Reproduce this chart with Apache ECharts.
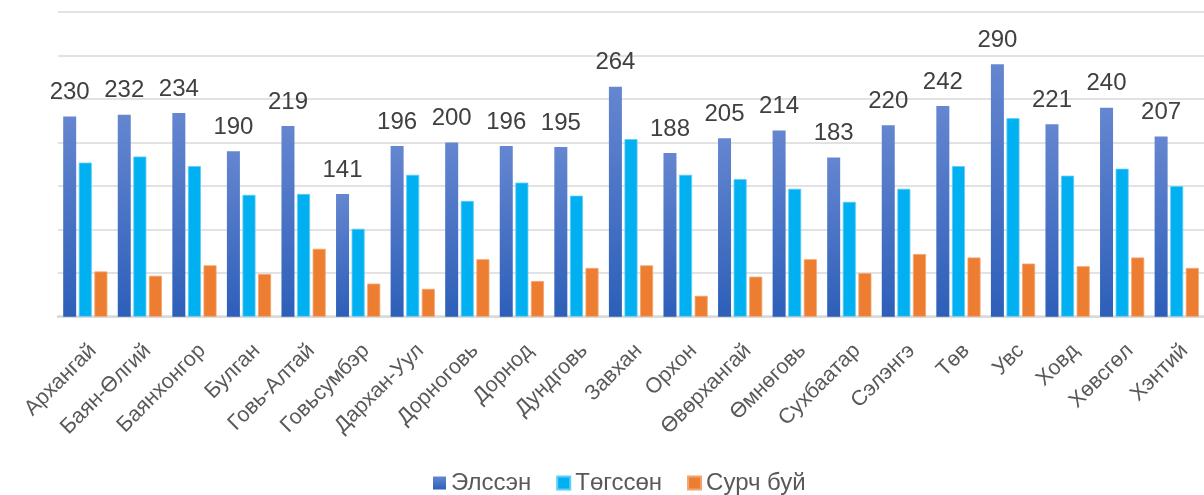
<!DOCTYPE html>
<html>
<head>
<meta charset="utf-8">
<script src="https://cdn.jsdelivr.net/npm/echarts@6/dist/echarts.min.js"></script>
<style>
  html, body { margin: 0; padding: 0; background: #ffffff; }
  #chart { width: 1204px; height: 495px; }
</style>
</head>
<body>
<div id="chart"></div>
<script>
// Aimags of Mongolia
const categories = [
  'Архангай', 'Баян-Өлгий', 'Баянхонгор', 'Булган', 'Говь-Алтай', 'Говьсумбэр',
  'Дархан-Уул', 'Дорноговь', 'Дорнод', 'Дундговь', 'Завхан', 'Орхон',
  'Өвөрхангай', 'Өмнөговь', 'Сухбаатар', 'Сэлэнгэ', 'Төв', 'Увс',
  'Ховд', 'Хөвсгөл', 'Хэнтий'
];

const seriesNames = ['Элссэн', 'Төгссөн', 'Сурч буй'];

// Enrolled
const enrolled = [230, 232, 234, 190, 219, 141, 196, 200, 196, 195, 264, 188,
                  205, 214, 183, 220, 242, 290, 221, 240, 207];
// Graduated
const graduated = [177, 184, 173, 140, 141, 101, 163, 133, 154, 139, 204, 163,
                   158, 147, 132, 147, 173, 228, 162, 170, 150];
// Still studying
const studying = [52, 47, 59, 49, 78, 38, 32, 66, 41, 56, 59, 24,
                  46, 66, 50, 72, 68, 61, 58, 68, 56];

const yMax = 350;
const yStep = 50;

const FONT = '"Liberation Sans", Arial, sans-serif';

const chart = echarts.init(document.getElementById('chart'), null, { renderer: 'canvas' });

const blueFill = new echarts.graphic.LinearGradient(0, 0, 0, 1, [
  { offset: 0, color: '#6586d0' },
  { offset: 1, color: '#2d5fb9' }
]);

chart.setOption({
  animation: false,
  backgroundColor: '#ffffff',
  textStyle: { fontFamily: FONT },
  grid: { left: 58, top: 12, width: 1154, height: 304.7, containLabel: false },
  legend: {
    data: seriesNames,
    left: 428,
    top: 466,
    itemWidth: 13,
    itemHeight: 13,
    itemGap: 25,
    icon: 'rect',
    textStyle: { fontSize: 24, color: '#595959', fontFamily: FONT }
  },
  xAxis: {
    type: 'category',
    data: categories,
    axisLine: { lineStyle: { color: '#d9d9d9', width: 2.5 } },
    axisTick: { show: false },
    axisLabel: {
      rotate: 45,
      interval: 0,
      margin: 23,
      align: 'right',
      verticalAlign: 'top',
      fontSize: 21.5,
      color: '#595959',
      fontFamily: FONT
    }
  },
  yAxis: {
    type: 'value',
    min: 0,
    max: yMax,
    interval: yStep,
    axisLabel: { show: false },
    axisLine: { show: false },
    axisTick: { show: false },
    splitLine: { lineStyle: { color: '#d9d9d9', width: 1.5 } }
  },
  series: [
    {
      name: seriesNames[0],
      type: 'bar',
      data: enrolled,
      barWidth: 13,
      barGap: '20%',
      itemStyle: { color: blueFill },
      label: {
        show: true,
        position: 'top',
        distance: 12,
        fontSize: 24,
        color: '#404040',
        fontFamily: FONT
      }
    },
    {
      name: seriesNames[1],
      type: 'bar',
      data: graduated,
      barWidth: 13,
      barGap: '20%',
      itemStyle: { color: '#00b0f0', borderColor: '#5fcdf5', borderWidth: 0.8 }
    },
    {
      name: seriesNames[2],
      type: 'bar',
      data: studying,
      barWidth: 13,
      barGap: '20%',
      itemStyle: { color: '#ed7d31', borderColor: '#f3a56f', borderWidth: 0.8 }
    }
  ]
});
</script>
</body>
</html>
